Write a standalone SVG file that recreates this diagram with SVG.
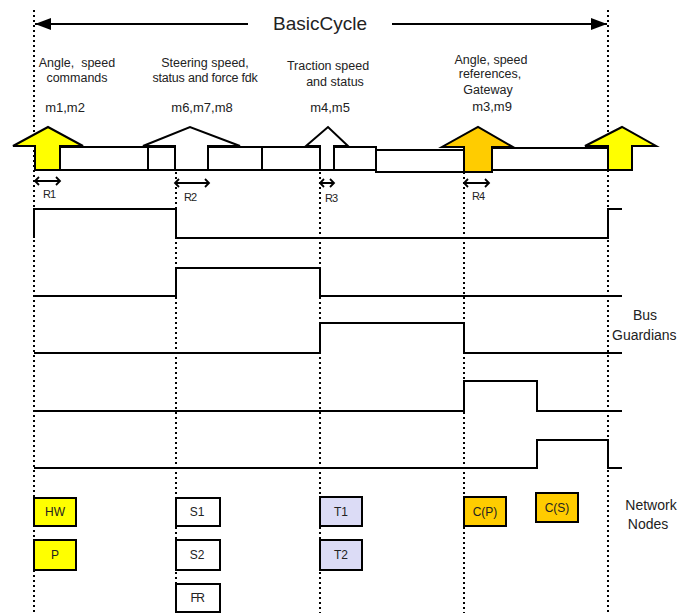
<svg xmlns="http://www.w3.org/2000/svg" width="693" height="613" viewBox="0 0 693 613">
<defs>
<style>
text{font-family:"Liberation Sans",Arial,sans-serif;fill:#222}
.lbl{font-size:12.5px;text-anchor:middle}
.ml{font-size:13px;text-anchor:middle}
.box{stroke:#000;stroke-width:2}
.bt{font-size:12px;text-anchor:middle}
.dot{stroke:#000;stroke-width:2;stroke-dasharray:2,3;fill:none}
.sig{stroke:#000;stroke-width:2;fill:none}
.bar{fill:#fff;stroke:#000;stroke-width:2}
.arw{stroke:#000;stroke-width:2;stroke-linejoin:miter}
.r{stroke:#000;stroke-width:1.8;fill:none}
.rt{font-size:11px;letter-spacing:-1px}
.side{font-size:14px}
</style>
<marker id="ah" viewBox="0 0 16 12" refX="16" refY="6" markerWidth="17" markerHeight="12" orient="auto" markerUnits="userSpaceOnUse">
<path d="M0,0 L16,6 L0,12 Z" fill="#000"/>
</marker>
</defs>
<rect width="693" height="613" fill="#fff"/>

<g id="gridlines">
<line class="dot" x1="34" y1="10" x2="34" y2="613"/>
<line class="dot" x1="176" y1="172" x2="176" y2="613"/>
<line class="dot" x1="320" y1="172" x2="320" y2="613"/>
<line class="dot" x1="464" y1="172" x2="464" y2="613"/>
<line class="dot" x1="608" y1="10" x2="608" y2="613"/>
</g>

<g id="cycle">
<line x1="248" y1="24" x2="35" y2="24" stroke="#000" stroke-width="2" marker-end="url(#ah)"/>
<line x1="392" y1="24" x2="607" y2="24" stroke="#000" stroke-width="2" marker-end="url(#ah)"/>
<text x="320" y="30" style="font-size:19px;text-anchor:middle">BasicCycle</text>
</g>

<g id="labels">
<text class="lbl" x="77" y="67" xml:space="preserve">Angle,  speed</text>
<text class="lbl" x="77" y="82">commands</text>
<text class="ml" x="65" y="112">m1,m2</text>
<text class="lbl" x="205" y="67">Steering speed,</text>
<text class="lbl" x="205" y="82" style="letter-spacing:-0.2px">status and force fdk</text>
<text class="ml" x="202" y="112">m6,m7,m8</text>
<text class="lbl" x="328" y="70">Traction speed</text>
<text class="lbl" x="335" y="86">and status</text>
<text class="ml" x="330" y="112">m4,m5</text>
<text class="lbl" x="491" y="64">Angle, speed</text>
<text class="lbl" x="490" y="78">references,</text>
<text class="lbl" x="488" y="94">Gateway</text>
<text class="ml" x="492" y="111">m3,m9</text>
</g>

<g id="busbar">
<rect class="bar" x="36" y="147" width="112" height="23"/>
<rect class="bar" x="148" y="147" width="27" height="23"/>
<rect class="bar" x="208" y="147" width="54" height="23"/>
<rect class="bar" x="262" y="147" width="58" height="23"/>
<rect class="bar" x="334" y="147" width="42" height="23"/>
<rect class="bar" x="376" y="150" width="88" height="22"/>
<rect class="bar" x="492" y="148" width="116" height="22"/>
<polygon class="arw" fill="#ffff00" points="35,170 35,146 13,146 48,127 83,146 60,146 60,170"/>
<polygon class="arw" fill="#fff" points="175,170 175,146 143,146 190,127 240,146 208,146 208,170"/>
<polygon class="arw" fill="#fff" points="320,170 320,146 306,146 328,127 348,146 334,146 334,170"/>
<polygon class="arw" fill="#ffcc00" points="464,172 464,147 442,147 478,127 513,147 492,147 492,172"/>
<polygon class="arw" fill="#ffff00" points="608,170 608,146 585,146 622,127 656,146 632,146 632,170"/>
</g>

<g id="ranges">
<path class="r" d="M35,181 H60 M39,177 L35,181 L39,185 M56,177 L60,181 L56,185"/>
<text class="rt" x="43" y="198">R1</text>
<path class="r" d="M175,183 H209 M179,179 L175,183 L179,187 M205,179 L209,183 L205,187"/>
<text class="rt" x="184" y="201">R2</text>
<path class="r" d="M320,183 H334 M324,179 L320,183 L324,187 M330,179 L334,183 L330,187"/>
<text class="rt" x="325" y="202">R3</text>
<path class="r" d="M464,183 H489 M468,179 L464,183 L468,187 M485,179 L489,183 L485,187"/>
<text class="rt" x="472" y="200">R4</text>
</g>

<g id="signals">
<polyline class="sig" points="34,238 34,209 176,209 176,238 608,238 608,209 622,209"/>
<polyline class="sig" points="34,296 176,296 176,268 320,268 320,296 622,296"/>
<polyline class="sig" points="34,353 320,353 320,323 464,323 464,353 622,353"/>
<polyline class="sig" points="34,411 464,411 464,381 537,381 537,411 622,411"/>
<polyline class="sig" points="34,468 537,468 537,440 608,440 608,468 622,468"/>
<text class="side" x="645" y="320" text-anchor="middle">Bus</text>
<text class="side" x="612" y="340">Guardians</text>
</g>

<g id="node-HW"><rect class="box" x="34" y="498" width="42" height="28" fill="#ffff00"/><text class="bt" x="55" y="516">HW</text></g>
<g id="node-P"><rect class="box" x="34" y="540" width="42" height="30" fill="#ffff00"/><text class="bt" x="55" y="559">P</text></g>
<g id="node-S1"><rect class="box" x="176" y="498" width="44" height="28" fill="#fff"/><text class="bt" x="197" y="516">S1</text></g>
<g id="node-S2"><rect class="box" x="176" y="540" width="44" height="30" fill="#fff"/><text class="bt" x="197" y="559">S2</text></g>
<g id="node-FR"><rect class="box" x="176" y="584" width="44" height="28" fill="#fff"/><text class="bt" x="197" y="602" style="letter-spacing:-1.5px">FR</text></g>
<g id="node-T1"><rect class="box" x="320" y="497" width="42" height="29" fill="#dcdcf6"/><text class="bt" x="341" y="516">T1</text></g>
<g id="node-T2"><rect class="box" x="320" y="540" width="42" height="30" fill="#dcdcf6"/><text class="bt" x="341" y="559">T2</text></g>
<g id="node-CP"><rect class="box" x="464" y="497" width="42" height="29" fill="#ffcc00"/><text class="bt" x="485" y="516">C(P)</text></g>
<g id="node-CS"><rect class="box" x="536" y="493" width="42" height="29" fill="#ffcc00"/><text class="bt" x="557" y="512">C(S)</text></g>

<g id="nodes-label">
<text class="side" x="651" y="510" text-anchor="middle">Network</text>
<text class="side" x="648" y="529" text-anchor="middle">Nodes</text>
</g>
</svg>
